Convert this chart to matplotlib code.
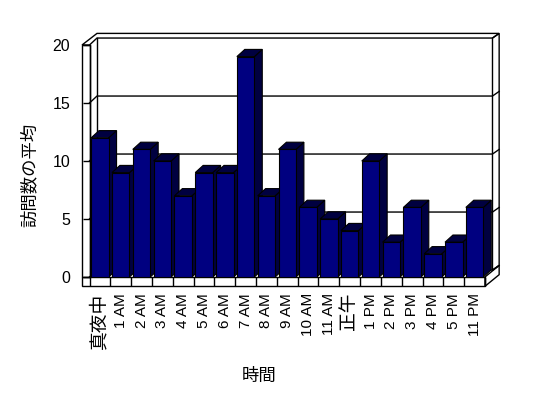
import matplotlib
matplotlib.use("Agg")
import matplotlib.pyplot as plt
from matplotlib.patches import Polygon

plt.rcParams['font.family'] = ['Liberation Sans', 'Noto Sans CJK JP', 'DejaVu Sans']

# datos
horas = ["真夜中", "1 AM", "2 AM", "3 AM", "4 AM", "5 AM", "6 AM", "7 AM", "8 AM",
         "9 AM", "10 AM", "11 AM", "正午", "1 PM", "2 PM", "3 PM", "4 PM", "5 PM", "11 PM"]
visitas = [12, 9, 11, 10, 7, 9, 9, 19, 7, 11, 6, 5, 4, 10, 3, 6, 2, 3, 6]
yticks = [0, 5, 10, 15, 20]

frente = "#000080"
oscuro = "#000040"

n = len(horas)
ymax = 20

fig = plt.figure(figsize=(5.48, 3.98), dpi=100)
# caja frontal en pixeles: x 89.5..485, y 45..277
ax = fig.add_axes([89.5 / 548, 121 / 398, 395.5 / 548, 232 / 398])
ax.set_xlim(-0.5, n - 0.5)
ax.set_ylim(0, ymax)

# profundidad (en unidades de datos)
Dx, Dy = 0.36, 0.60     # del plano frontal al fondo
Tx, Ty = 0.32, 0.40     # grosor de la pared del fondo
LW = 0.36               # grosor pared izquierda
FT = 0.80               # grosor del suelo
bx, by = 0.38, 0.62     # profundidad de las barras
w = 0.84

xi = -0.5
xl = xi - LW
xr = n - 0.5

kw = dict(fill=False, ec="black", lw=1, clip_on=False, zorder=1)

# suelo
ax.add_patch(Polygon([(xl, 0), (xr, 0), (xr, -FT), (xl, -FT)], **kw))
ax.add_patch(Polygon([(xr, 0), (xr + Dx + Tx, Dy + Ty), (xr + Dx + Tx, Dy + Ty - FT), (xr, -FT)], **kw))
# pared izquierda
ax.add_patch(Polygon([(xl, 0), (xi, 0), (xi, ymax), (xl, ymax)], **kw))
# borde superior de paredes
ax.add_patch(Polygon([(xl, ymax), (xi, ymax), (xi + Dx, ymax + Dy), (xr + Dx, ymax + Dy),
                      (xr + Dx + Tx, ymax + Dy + Ty), (xi + Dx, ymax + Dy + Ty)], **kw))
ax.plot([xi + Dx, xi + Dx], [Dy, ymax + Dy], color="black", lw=1, clip_on=False, zorder=1)
# lateral derecho de la pared del fondo
ax.add_patch(Polygon([(xr + Dx, Dy), (xr + Dx, ymax + Dy), (xr + Dx + Tx, ymax + Dy + Ty),
                      (xr + Dx + Tx, Dy + Ty)], **kw))

# lineas de cuadricula
for v in yticks[:-1]:
    ax.plot([xi, xi + Dx, xr + Dx, xr + Dx + Tx], [v, v + Dy, v + Dy, v + Dy + Ty],
            color="black", lw=1, clip_on=False, zorder=1)

# barras
for i, v in enumerate(visitas):
    x0 = i - w / 2
    x1 = i + w / 2
    z = 3 + i * 0.01
    ax.add_patch(Polygon([(x1, 0), (x1 + bx, by), (x1 + bx, v + by), (x1, v)],
                         fc=oscuro, ec="black", lw=0.8, clip_on=False, zorder=z))
    ax.add_patch(Polygon([(x0, v), (x1, v), (x1 + bx, v + by), (x0 + bx, v + by)],
                         fc=oscuro, ec="black", lw=0.8, clip_on=False, zorder=z))
    ax.bar(i, v, width=w, color=frente, edgecolor="black", linewidth=0.8, zorder=z + 0.005)

for s in ["top", "right", "bottom"]:
    ax.spines[s].set_visible(False)
ax.spines["left"].set_linewidth(1)
ax.spines["left"].set_zorder(1)

ax.set_yticks(yticks)
ax.set_yticklabels([str(t) for t in yticks], fontsize=11.5)
ax.tick_params(axis="y", direction="out", length=5.4, width=1, pad=8.5)

ax.set_xticks(range(n))
ax.set_xticklabels(horas, rotation=90, fontsize=11)
ax.set_xticks([k - 0.5 for k in range(n + 1)], minor=True)
ax.tick_params(axis="x", which="major", length=0, pad=11.5)
ax.tick_params(axis="x", which="minor", direction="out", length=6.7, width=1)
# las etiquetas en kanji se ven más grandes en el original
for lab in ax.get_xticklabels():
    if not lab.get_text()[0].isdigit():
        lab.set_fontsize(13.5)

ax.set_xlabel("時間", fontsize=12.5)
ax.xaxis.set_label_coords((259 - 89.5) / 395.5, (22 - 121) / 232)
ax.xaxis.label.set_va("center")
ax.set_ylabel("訪問数の平均", fontsize=12.5)
ax.yaxis.set_label_coords((29 - 89.5) / 395.5, (398 - 175 - 121) / 232)
ax.yaxis.label.set_va("center")

fig.savefig("out.png", dpi=100)
